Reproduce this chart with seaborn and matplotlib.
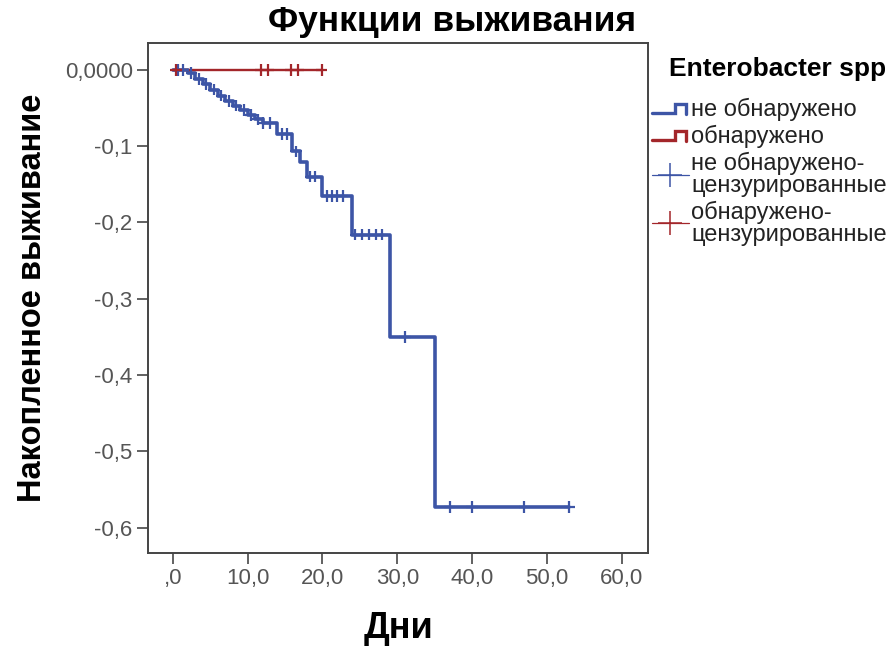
import numpy as np
import pandas as pd
import matplotlib
matplotlib.use("Agg")
import matplotlib.pyplot as plt
from matplotlib.lines import Line2D
from matplotlib.legend_handler import HandlerBase
import seaborn as sns

# ---- data ----
groups = ["не обнаружено", "обнаружено"]
blue_days = [0, 2, 3, 4, 5, 6, 7, 8, 9, 10, 11, 12, 14, 16, 17, 18, 20, 24, 29, 35, 53]
blue_vals = [0.0, -0.004, -0.012, -0.019, -0.026, -0.034, -0.041, -0.047, -0.053, -0.059,
             -0.065, -0.070, -0.084, -0.107, -0.121, -0.140, -0.165, -0.216, -0.350, -0.573, -0.573]
red_days = [0, 20]
red_vals = [0.0, 0.0]
blue_cens = [0.7, 1.4, 2.5, 3.5, 4.5, 5.5, 6.5, 7.5, 8.5, 9.5, 10.5, 11.4, 12.0, 13.0, 14.6, 15.3,
             16.5, 18.4, 19.0, 20.6, 21.3, 22.0, 22.7, 24.4, 25.3, 26.2, 27.1, 28.0, 31.0, 37.0, 40.0, 47.0, 53.0]
red_cens = [0.4, 11.8, 12.7, 15.8, 16.7, 19.9]
x_ticks = [0, 10, 20, 30, 40, 50, 60]
x_labels = [",0", "10,0", "20,0", "30,0", "40,0", "50,0", "60,0"]
y_ticks = [0.0, -0.1, -0.2, -0.3, -0.4, -0.5, -0.6]
y_labels = ["0,0000", "-0,1", "-0,2", "-0,3", "-0,4", "-0,5", "-0,6"]
legend_labels = ["не обнаружено", "обнаружено", "не обнаружено-\nцензурированные",
                 "обнаружено-\nцензурированные"]

BLUE = "#3d55a6"
RED = "#a3262a"
palette = {groups[0]: BLUE, groups[1]: RED}

steps = pd.DataFrame({
    "day": blue_days + red_days,
    "val": blue_vals + red_vals,
    "grp": [groups[0]] * len(blue_days) + [groups[1]] * len(red_days),
})


def step_value(days, vals, t):
    i = np.searchsorted(days, t, side="right") - 1
    return vals[i]


cens = pd.DataFrame({
    "day": blue_cens + red_cens,
    "val": [step_value(blue_days, blue_vals, t) for t in blue_cens]
           + [step_value(red_days, red_vals, t) for t in red_cens],
    "grp": [groups[0]] * len(blue_cens) + [groups[1]] * len(red_cens),
})

sns.set_theme(style="white")
plt.rcParams["font.family"] = ["Liberation Sans", "DejaVu Sans"]

fig = plt.figure(figsize=(8.96, 6.48), dpi=100)
ax = fig.add_axes([148 / 896, 1 - 553 / 648, 500 / 896, 510 / 648])

for g, lw in [(groups[0], 2.6), (groups[1], 1.7)]:
    sns.lineplot(data=steps[steps.grp == g], x="day", y="val", color=palette[g],
                 drawstyle="steps-post", estimator=None, sort=False, lw=lw, ax=ax, legend=False)
sns.scatterplot(data=cens, x="day", y="val", hue="grp", palette=palette, marker="+",
                s=70, linewidth=1.6, ax=ax, legend=False, zorder=3)

ax.set_xlim(-3.3, 63.5)
ax.set_ylim(-0.633, 0.035)
ax.set_xticks(x_ticks)
ax.set_xticklabels(x_labels)
ax.set_yticks(y_ticks)
ax.set_yticklabels(y_labels)
ax.tick_params(axis="both", which="major", direction="out", length=8, width=1.3,
               color="#555555", labelcolor="#555555", labelsize=16, pad=3,
               bottom=True, left=True)
for sp in ax.spines.values():
    sp.set_color("#444444")
    sp.set_linewidth(1.4)

ax.set_xlabel("Дни", fontsize=26, fontweight="bold", labelpad=16, color="black")
ax.set_ylabel("Накопленное выживание", fontsize=23.5, fontweight="bold", labelpad=12, color="black")
ax.set_title("Функции выживания", fontsize=25.5, fontweight="bold", pad=9, color="black",
             x=(452 - 148) / 500)


class StepHandler(HandlerBase):
    def create_artists(self, legend, orig_handle, xdescent, ydescent, width, height, fontsize, trans):
        w, h = width, height
        xs = [0, w * 0.64, w * 0.64, w * 0.94, w * 0.94]
        ys = [h * 0.2, h * 0.2, h * 0.7, h * 0.7, h * 0.1]
        ln = Line2D(xs, ys, color=orig_handle.get_color(), lw=2.4, transform=trans,
                    solid_joinstyle="miter")
        return [ln]


class CensorHandler(HandlerBase):
    def create_artists(self, legend, orig_handle, xdescent, ydescent, width, height, fontsize, trans):
        w, h = width, height
        ln = Line2D([0, w], [h / 2, h / 2], color=orig_handle.get_color(), lw=0.9, transform=trans)
        mk = Line2D([w / 2], [h / 2], color=orig_handle.get_color(), marker="+", markersize=17,
                    markeredgewidth=1.1, linestyle="none", transform=trans)
        return [ln, mk]


h1 = Line2D([], [], color=BLUE)
h2 = Line2D([], [], color=RED)
h3 = Line2D([], [], color=BLUE, marker="+")
h4 = Line2D([], [], color=RED, marker="+")
leg = fig.legend([h1, h2, h3, h4], legend_labels,
                 handler_map={h1: StepHandler(), h2: StepHandler(),
                              h3: CensorHandler(), h4: CensorHandler()},
                 title="Enterobacter spp", title_fontproperties={"weight": "bold", "size": 19},
                 prop={"size": 17}, frameon=False, loc="upper left",
                 bbox_to_anchor=(652 / 896, 1 - 57 / 648), borderaxespad=0.0, borderpad=0.0,
                 handlelength=1.55, handletextpad=0.1, labelspacing=0.17, alignment="right")
for t in leg.get_texts():
    t.set_color("#222222")
    t.set_linespacing(0.98)
leg.get_title().set_color("black")
leg._legend_box.sep = 12

fig.savefig("out.png", dpi=100)
